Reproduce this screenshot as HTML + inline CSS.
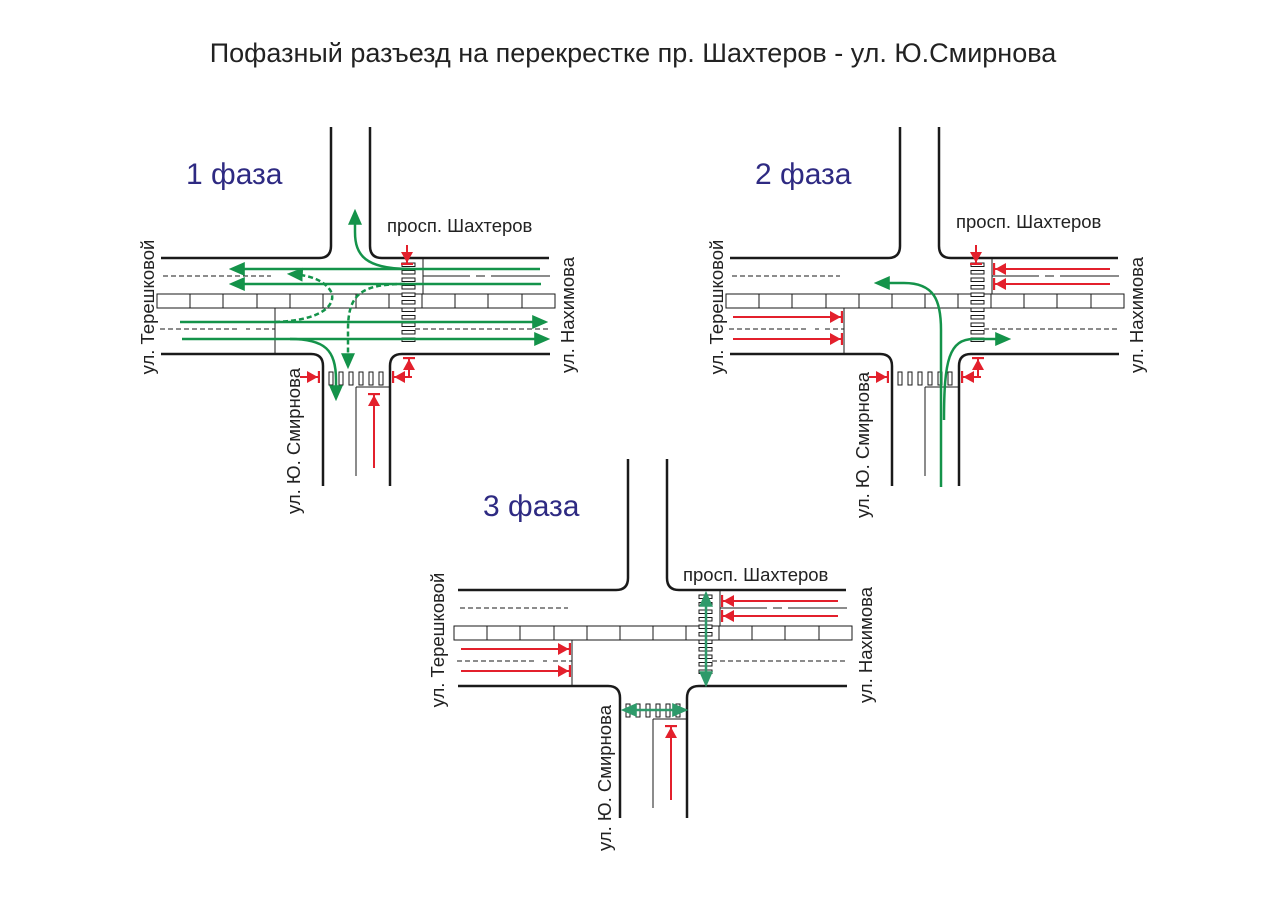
<!DOCTYPE html>
<html><head><meta charset="utf-8"><style>
html,body{margin:0;padding:0;background:#fff;width:1280px;height:899px;overflow:hidden}
svg{display:block}
text{font-family:"Liberation Sans",sans-serif}
</style></head><body>
<svg width="1280" height="899" viewBox="0 0 1280 899" xmlns="http://www.w3.org/2000/svg">
<defs>
<marker id="gaL" viewBox="0 0 10 10" refX="8" refY="5" markerWidth="16" markerHeight="14" orient="auto-start-reverse" markerUnits="userSpaceOnUse" preserveAspectRatio="none"><path d="M0 0L10 5L0 10z" fill="#14934a"/></marker>
<marker id="ta" viewBox="0 0 10 10" refX="8" refY="5" markerWidth="16" markerHeight="14" orient="auto-start-reverse" markerUnits="userSpaceOnUse" preserveAspectRatio="none"><path d="M0 0L10 5L0 10z" fill="#2e9a6a"/></marker>
<marker id="ra" viewBox="0 0 12 10" refX="12" refY="5" markerWidth="13" markerHeight="12" orient="auto" markerUnits="userSpaceOnUse" preserveAspectRatio="none"><path d="M0 0L10 5L0 10z" fill="#e3202c"/><path d="M11 0V10" stroke="#e3202c" stroke-width="2"/></marker>
<g id="base" fill="none" stroke="#1a1a1a">
<path d="M331 127V246Q331 258 319 258H161" stroke-width="2.5"/>
<path d="M370 127V246Q370 258 382 258H549" stroke-width="2.5"/>
<path d="M161 354H311Q323 354 323 366V486" stroke-width="2.5"/>
<path d="M550 354H402Q390 354 390 366V486" stroke-width="2.5"/>
<path d="M163 276H271" stroke-width="1" stroke-dasharray="5,3"/>
<path d="M423 276H470M476 276H485M491 276H550" stroke-width="1"/>
<path d="M160 329H240M246 329H250M256 329H275" stroke-width="1" stroke-dasharray="5,3"/>
<path d="M415 329H550" stroke-width="1" stroke-dasharray="5,3"/>
<rect x="157" y="294" width="398" height="14" stroke-width="1"/>
<path d="M190 294v14M223 294v14M257 294v14M290 294v14M323 294v14M356 294v14M389 294v14M422 294v14M455 294v14M488 294v14M522 294v14" stroke-width="1"/>
<path d="M275 308V354M423 258V294M356 387H389M356 387V476" stroke-width="1"/>
<g stroke-width="1" fill="#fff">
<rect x="402" y="263" width="13" height="3.5"/><rect x="402" y="270.5" width="13" height="3.5"/><rect x="402" y="278" width="13" height="3.5"/><rect x="402" y="285.5" width="13" height="3.5"/><rect x="402" y="293" width="13" height="3.5"/><rect x="402" y="300.5" width="13" height="3.5"/><rect x="402" y="308" width="13" height="3.5"/><rect x="402" y="315.5" width="13" height="3.5"/><rect x="402" y="323" width="13" height="3.5"/><rect x="402" y="330.5" width="13" height="3.5"/><rect x="402" y="338" width="13" height="3.5"/>
<rect x="329" y="372" width="4" height="13"/><rect x="339" y="372" width="4" height="13"/><rect x="349" y="372" width="4" height="13"/><rect x="359" y="372" width="4" height="13"/><rect x="369" y="372" width="4" height="13"/><rect x="379" y="372" width="4" height="13"/>
</g>
</g>
<g id="redx" fill="none" stroke="#e3202c" stroke-width="2">
<path d="M407 245V265" marker-end="url(#ra)"/>
<path d="M300 377H320" marker-end="url(#ra)"/>
<path d="M412 377H392" marker-end="url(#ra)"/>
<path d="M409 377V357" marker-end="url(#ra)"/>
</g>
<g id="redS" fill="none" stroke="#e3202c" stroke-width="2"><path d="M374 468V393" marker-end="url(#ra)"/></g>
<g id="redLR" fill="none" stroke="#e3202c" stroke-width="2">
<path d="M541 269H424" marker-end="url(#ra)"/>
<path d="M541 284H424" marker-end="url(#ra)"/>
<path d="M164 317H274" marker-end="url(#ra)"/>
<path d="M164 339H274" marker-end="url(#ra)"/>
</g>
</defs>

<text x="633" y="62" font-size="27" text-anchor="middle" fill="#222">Пофазный разъезд на перекрестке пр. Шахтеров - ул. Ю.Смирнова</text>

<!-- Phase 1 -->
<use href="#base"/>
<use href="#redx"/>
<use href="#redS"/>
<g fill="none" stroke="#14934a" stroke-width="2.5">
<path d="M540 269H232" marker-end="url(#gaL)"/>
<path d="M541 284H232" marker-end="url(#gaL)"/>
<path d="M180 322H545" marker-end="url(#gaL)"/>
<path d="M182 339H547" marker-end="url(#gaL)"/>
<path d="M410 269C365 269 355 255 355 232V212" marker-end="url(#gaL)"/>
<path d="M290 339C325 339 336 350 336 380V398" marker-end="url(#gaL)"/>
<path d="M405 284C360 284 348 295 348 330V366" stroke-dasharray="5,3" marker-end="url(#gaL)"/>
<path d="M275 322C330 320 337 300 330 290C323 280 310 275 290 274" stroke-dasharray="5,3" marker-end="url(#gaL)"/>
</g>
<text x="186" y="184" font-size="30" fill="#2e2a82">1 фаза</text>
<text x="387" y="232" font-size="18.5" fill="#222">просп. Шахтеров</text>
<text transform="translate(154,307) rotate(-90)" font-size="18.5" text-anchor="middle" fill="#222">ул. Терешковой</text>
<text transform="translate(574,315) rotate(-90)" font-size="18.5" text-anchor="middle" fill="#222">ул. Нахимова</text>
<text transform="translate(300,441) rotate(-90)" font-size="18.5" text-anchor="middle" fill="#222">ул. Ю. Смирнова</text>

<!-- Phase 2 -->
<g transform="translate(569,0)">
<use href="#base"/>
<use href="#redx"/>
<use href="#redLR"/>
<g fill="none" stroke="#14934a" stroke-width="2.5">
<path d="M372 487V330C372 300 365 283 335 283H308" marker-end="url(#gaL)"/>
<path d="M375 420C375 360 380 339 405 339H439" marker-end="url(#gaL)"/>
</g>
<text x="186" y="184" font-size="30" fill="#2e2a82">2 фаза</text>
<text x="387" y="228" font-size="18.5" fill="#222">просп. Шахтеров</text>
<text transform="translate(154,307) rotate(-90)" font-size="18.5" text-anchor="middle" fill="#222">ул. Терешковой</text>
<text transform="translate(574,315) rotate(-90)" font-size="18.5" text-anchor="middle" fill="#222">ул. Нахимова</text>
<text transform="translate(300,445) rotate(-90)" font-size="18.5" text-anchor="middle" fill="#222">ул. Ю. Смирнова</text>
</g>

<!-- Phase 3 -->
<g transform="translate(297,332)">
<use href="#base"/>
<use href="#redS"/>
<use href="#redLR"/>
<g fill="none" stroke="#2e9a6a" stroke-width="2.5">
<path d="M409 262V352" marker-start="url(#ta)" marker-end="url(#ta)"/>
<path d="M327 378H388" marker-start="url(#ta)" marker-end="url(#ta)"/>
</g>
<text x="186" y="184" font-size="30" fill="#2e2a82">3 фаза</text>
<text x="386" y="249" font-size="18.5" fill="#222">просп. Шахтеров</text>
<text transform="translate(147,308) rotate(-90)" font-size="18.5" text-anchor="middle" fill="#222">ул. Терешковой</text>
<text transform="translate(575,313) rotate(-90)" font-size="18.5" text-anchor="middle" fill="#222">ул. Нахимова</text>
<text transform="translate(314,446) rotate(-90)" font-size="18.5" text-anchor="middle" fill="#222">ул. Ю. Смирнова</text>
</g>
</svg>
</body></html>
